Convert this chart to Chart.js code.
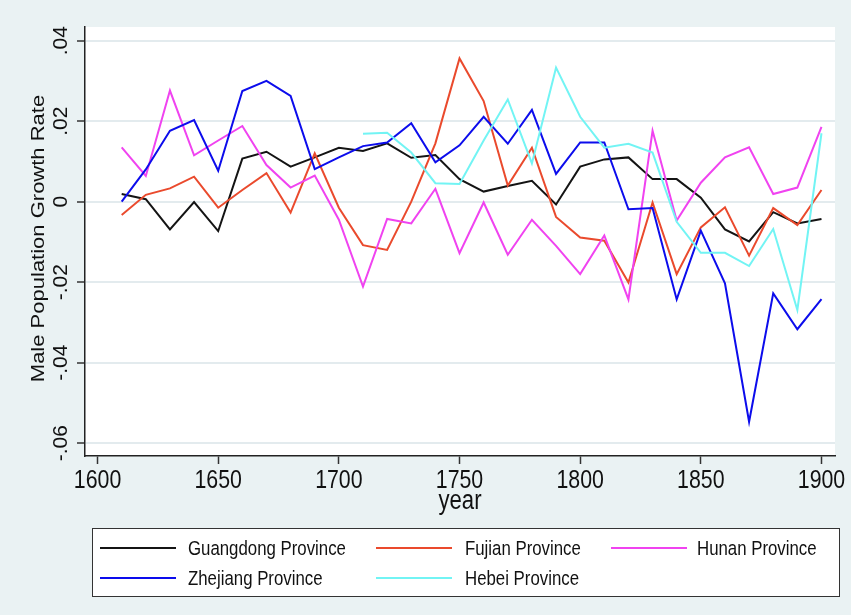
<!DOCTYPE html>
<html>
<head>
<meta charset="utf-8">
<script src="https://cdn.jsdelivr.net/npm/chart.js@4.4.1/dist/chart.umd.min.js"></script>
<style>
  html, body { margin: 0; padding: 0; background: #eaf2f3; }
  canvas { display: block; }
</style>
</head>
<body>
<canvas id="chart" width="851" height="615"></canvas>
<script>
// Decennial male population growth rates by province
const years = [1610, 1620, 1630, 1640, 1650, 1660, 1670, 1680, 1690, 1700,
               1710, 1720, 1730, 1740, 1750, 1760, 1770, 1780, 1790, 1800,
               1810, 1820, 1830, 1840, 1850, 1860, 1870, 1880, 1890, 1900];

const guangdong = [0.0019, 0.0006, -0.0069, -0.0001, -0.0073, 0.0107, 0.0124, 0.0087, 0.0110, 0.0134,
                   0.0126, 0.0145, 0.0109, 0.0116, 0.0056, 0.0025, 0.0039, 0.0052, -0.0007, 0.0087,
                   0.0105, 0.0110, 0.0056, 0.0056, 0.0010, -0.0069, -0.0099, -0.0026, -0.0054, -0.0043];

const fujian = [-0.0033, 0.0017, 0.0033, 0.0062, -0.0015, 0.0029, 0.0071, -0.0027, 0.0120, -0.0015,
                -0.0108, -0.0120, 0.0000, 0.0145, 0.0356, 0.0250, 0.0040, 0.0134, -0.0038, -0.0089,
                -0.0097, -0.0201, -0.0002, -0.0180, -0.0064, -0.0014, -0.0134, -0.0016, -0.0058, 0.0029];

const hunan = [0.0135, 0.0064, 0.0276, 0.0115, 0.0152, 0.0188, 0.0091, 0.0035, 0.0065, -0.0045,
               -0.0211, -0.0043, -0.0054, 0.0032, -0.0128, -0.0002, -0.0132, -0.0045, -0.0110, -0.0180,
               -0.0084, -0.0243, 0.0176, -0.0047, 0.0047, 0.0110, 0.0135, 0.0019, 0.0035, 0.0186];

const zhejiang = [0.0000, 0.0080, 0.0176, 0.0203, 0.0077, 0.0275, 0.0300, 0.0263, 0.0081, 0.0110,
                  0.0138, 0.0147, 0.0195, 0.0098, 0.0140, 0.0211, 0.0144, 0.0228, 0.0069, 0.0147,
                  0.0147, -0.0019, -0.0016, -0.0243, -0.0072, -0.0203, -0.0547, -0.0228, -0.0317, -0.0242];

const hebei = [null, null, null, null, null, null, null, null, null, null,
               0.0169, 0.0171, 0.0122, 0.0046, 0.0044, 0.0152, 0.0254, 0.0095, 0.0333, 0.0211,
               0.0134, 0.0144, 0.0122, -0.0050, -0.0127, -0.0127, -0.0160, -0.0068, -0.0269, 0.0170];

const seriesNames = ['Guangdong Province', 'Fujian Province', 'Hunan Province', 'Zhejiang Province', 'Hebei Province'];
const seriesColors = ['#141414', '#ea4a2d', '#f043f0', '#0c0cec', '#72f4f4'];

const xTickValues = [1600, 1650, 1700, 1750, 1800, 1850, 1900];
const xTickLabels = ['1600', '1650', '1700', '1750', '1800', '1850', '1900'];
const yTickValues = [-0.06, -0.04, -0.02, 0, 0.02, 0.04];
const yTickLabels = ['-.06', '-.04', '-.02', '0', '.02', '.04'];

const xTitle = 'year';
const yTitle = 'Male Population Growth Rate';

const FONT = "'Liberation Sans', Arial, Helvetica, sans-serif";
const TEXT = '#111111';
const SQUEEZE = 0.82;   // narrow Helvetica look

const seriesValues = [guangdong, fujian, hunan, zhejiang, hebei];

const datasets = seriesValues.map((vals, i) => ({
  label: seriesNames[i],
  data: years.map((yr, j) => ({ x: yr, y: vals[j] })),
  borderColor: seriesColors[i],
  backgroundColor: seriesColors[i],
  borderWidth: 2,
  pointRadius: 0,
  tension: 0,
  spanGaps: false,
  fill: false,
  order: seriesValues.length - i
}));

// Draws a text string, optionally squeezed horizontally and/or turned upright
function drawText(ctx, str, x, y, size, align, baseline, opts = {}) {
  ctx.save();
  ctx.translate(x, y);
  if (opts.squeeze) ctx.scale(SQUEEZE, 1);
  if (opts.vertical) ctx.rotate(-Math.PI / 2);
  ctx.font = size + 'px ' + FONT;
  ctx.fillStyle = TEXT;
  ctx.textAlign = align;
  ctx.textBaseline = baseline;
  ctx.fillText(str, 0, 0);
  ctx.restore();
}

// Page / plot-region backgrounds
const backdrop = {
  id: 'backdrop',
  beforeDraw(chart) {
    const { ctx, chartArea: a } = chart;
    ctx.save();
    ctx.fillStyle = '#eaf2f3';
    ctx.fillRect(0, 0, chart.width, chart.height);
    ctx.fillStyle = '#ffffff';
    ctx.fillRect(a.left, a.top, a.right - a.left, a.bottom - a.top);
    ctx.restore();
  }
};

// Axis tick labels and axis titles
const axisText = {
  id: 'axisText',
  afterDraw(chart) {
    const { ctx, chartArea: a } = chart;
    const sx = chart.scales.x, sy = chart.scales.y;
    xTickValues.forEach((v, i) => {
      drawText(ctx, xTickLabels[i], sx.getPixelForValue(v), 488, 26, 'center', 'alphabetic', { squeeze: true });
    });
    drawText(ctx, xTitle, (a.left + a.right) / 2, 509, 27, 'center', 'alphabetic', { squeeze: true });
    yTickValues.forEach((v, i) => {
      drawText(ctx, yTickLabels[i], 67, sy.getPixelForValue(v), 21, 'center', 'alphabetic', { vertical: true });
    });
    drawText(ctx, yTitle, 44, (a.top + a.bottom) / 2 - 3, 22, 'center', 'alphabetic', { vertical: true, squeeze: true });
  }
};

// Boxed legend in three columns
const boxedLegend = {
  id: 'boxedLegend',
  afterDraw(chart) {
    const { ctx } = chart;
    ctx.save();
    ctx.fillStyle = '#ffffff';
    ctx.fillRect(92, 528, 748, 69);
    ctx.strokeStyle = '#333333';
    ctx.lineWidth = 1;
    ctx.strokeRect(92.5, 528.5, 747, 68);
    const lineX = [100, 376, 611];
    const textX = [188, 465, 697];
    const rowY = [548, 578];
    chart.data.datasets.forEach((ds, i) => {
      const c = i % 3, r = Math.floor(i / 3);
      const y = rowY[r];
      ctx.strokeStyle = ds.borderColor;
      ctx.lineWidth = 2;
      ctx.beginPath();
      ctx.moveTo(lineX[c], y);
      ctx.lineTo(lineX[c] + 76, y);
      ctx.stroke();
      drawText(ctx, ds.label, textX[c], y + 7, 20.5, 'left', 'alphabetic', { squeeze: true });
    });
    ctx.restore();
  }
};

new Chart(document.getElementById('chart'), {
  type: 'line',
  data: { datasets },
  plugins: [backdrop, axisText, boxedLegend],
  options: {
    responsive: false,
    animation: false,
    devicePixelRatio: 1,
    layout: { padding: { left: 0, top: 27, right: 16, bottom: 95 } },
    plugins: {
      legend: { display: false },
      tooltip: { enabled: false }
    },
    scales: {
      x: {
        type: 'linear',
        min: 1594.8,
        max: 1905.6,
        afterBuildTicks: s => { s.ticks = xTickValues.map(v => ({ value: v })); },
        afterFit: s => { s.height = 64; },
        ticks: { display: false },
        grid: {
          drawOnChartArea: false,
          drawTicks: true,
          tickLength: 8,
          tickColor: '#333333',
          tickWidth: 1.5
        },
        border: { display: true, color: '#222222', width: 1.5 }
      },
      y: {
        type: 'linear',
        min: -0.0632,
        max: 0.0434,
        afterBuildTicks: s => { s.ticks = yTickValues.map(v => ({ value: v })); },
        afterFit: s => { s.width = 85; },
        ticks: { display: false },
        grid: {
          color: '#e3ebee',
          lineWidth: 2,
          drawTicks: true,
          tickLength: 8,
          tickColor: '#333333',
          tickWidth: 1.5
        },
        border: { display: true, color: '#222222', width: 1.5 }
      }
    }
  }
});
</script>
</body>
</html>
